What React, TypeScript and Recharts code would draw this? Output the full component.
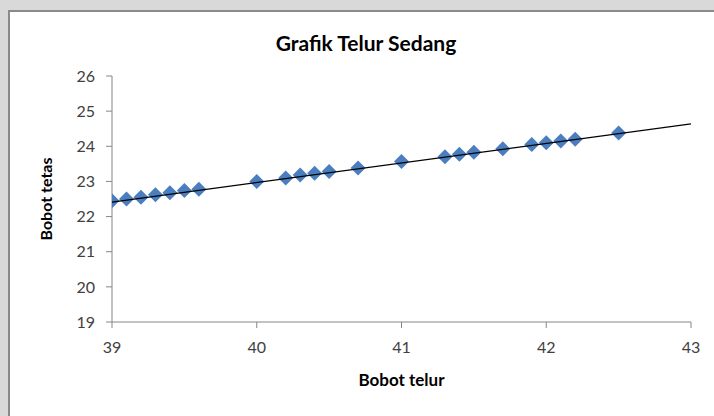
import React from "react";
import { ScatterChart, Scatter, XAxis, YAxis } from "recharts";

// Bobot telur (x) and bobot tetas (y)
const bobotTelur = [39, 39.1, 39.2, 39.3, 39.4, 39.5, 39.6, 40, 40.2, 40.3, 40.4, 40.5, 40.7, 41, 41.3, 41.4, 41.5, 41.7, 41.9, 42, 42.1, 42.2, 42.5];
const bobotTetas = [22.45, 22.5, 22.55, 22.62, 22.68, 22.74, 22.78, 23.0, 23.1, 23.18, 23.23, 23.28, 23.38, 23.57, 23.7, 23.77, 23.83, 23.93, 24.05, 24.1, 24.15, 24.2, 24.38];

// linear trendline ends
const trendX = [39, 43];
const trendY = [22.41, 24.64];

const xTicks = [39, 40, 41, 42, 43];
const yTicks = [19, 20, 21, 22, 23, 24, 25, 26];

const points = bobotTelur.map((x, i) => ({ x, y: bobotTetas[i] }));
const trend = trendX.map((x, i) => ({ x, y: trendY[i] }));

const FONT = "Lato, 'Open Sans', sans-serif";
const AXIS = "#868686";

const Diamond = (props: any) => {
  const { cx, cy } = props;
  const r = 7.5;
  return (
    <polygon
      points={`${cx},${cy - r} ${cx + r},${cy} ${cx},${cy + r} ${cx - r},${cy}`}
      fill="#4a7ebf"
    />
  );
};

const App: React.FC = () => {
  return (
    <div style={{ position: "fixed", left: 0, top: 0, width: 714, height: 416, background: "#d9d9d9", overflow: "hidden" }}>
      <style>{"html,body{margin:0;overflow:hidden;}"}</style>
      <div
        style={{
          position: "absolute",
          left: 8,
          top: 10,
          width: 760,
          height: 460,
          background: "#fff",
          borderLeft: "2px solid #8a8a8a",
          borderTop: "2px solid #8a8a8a",
        }}
      />
      <div
        style={{
          position: "absolute",
          left: 0,
          top: 30,
          width: 732,
          textAlign: "center",
          fontFamily: FONT,
          fontWeight: 700,
          fontSize: 21,
          lineHeight: "26px",
          color: "#000",
        }}
      >
        Grafik Telur Sedang
      </div>
      <div style={{ position: "absolute", left: 0, top: 0 }}>
        <ScatterChart width={714} height={416} margin={{ top: 76, right: 23, bottom: 64, left: 52 }}>
          <XAxis
            type="number"
            dataKey="x"
            domain={[39, 43]}
            ticks={xTicks}
            allowDataOverflow
            stroke={AXIS}
            tickSize={6}
            tickMargin={14}
            tick={{ fill: "#404040", fontSize: 16, fontFamily: FONT }}
            label={{ value: "Bobot telur", position: "bottom", offset: 22, fill: "#000", fontSize: 17, fontWeight: 700, fontFamily: FONT }}
          />
          <YAxis
            type="number"
            dataKey="y"
            domain={[19, 26]}
            ticks={yTicks}
            allowDataOverflow
            width={60}
            stroke={AXIS}
            tickSize={6}
            tickMargin={11}
            tick={{ fill: "#404040", fontSize: 16, fontFamily: FONT }}
            label={{ value: "Bobot tetas", angle: -90, position: "insideLeft", offset: -6, fill: "#000", fontSize: 16, fontWeight: 700, fontFamily: FONT, style: { textAnchor: "middle" } }}
          />
          <Scatter data={points} shape={<Diamond />} isAnimationActive={false} />
          <Scatter
            data={trend}
            line={{ stroke: "#000", strokeWidth: 1.3 }}
            lineType="joint"
            shape={() => <g />}
            isAnimationActive={false}
          />
        </ScatterChart>
      </div>
    </div>
  );
};

export default App;
